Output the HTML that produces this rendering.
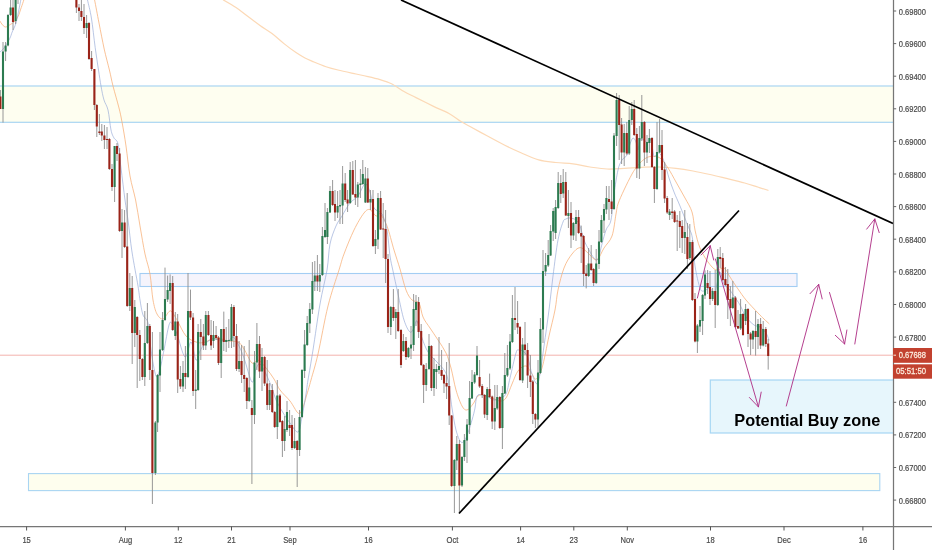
<!DOCTYPE html>
<html lang="en"><head><meta charset="utf-8"><title>AUDUSD chart</title>
<style>html,body{margin:0;padding:0;background:#fff;}body{width:932px;height:550px;overflow:hidden;font-family:"Liberation Sans","DejaVu Sans",sans-serif;}svg{display:block;}text{font-family:"Liberation Sans","DejaVu Sans",sans-serif;}</style>
</head><body>
<svg width="932" height="550" viewBox="0 0 932 550">
<rect x="0" y="0" width="932" height="550" fill="#ffffff"/>
<defs><clipPath id="plot"><rect x="0" y="0" width="893" height="526"/></clipPath></defs>
<g clip-path="url(#plot)">
<g id="zones">
<rect x="-2" y="86" width="900" height="36.3" fill="#fefef0" stroke="#a9d5f2" stroke-width="1.2"/>
<rect x="140" y="273.5" width="657" height="13" fill="#f5f4fc" stroke="#a3cdf3" stroke-width="1.1"/>
<rect x="28.5" y="473.6" width="851.3" height="17" fill="#fefeee" stroke="#a9d5f2" stroke-width="1.1"/>
<rect x="710.3" y="380" width="190" height="53" fill="#e7f6fc" stroke="#a6d6f3" stroke-width="1.2"/>
</g>
<line x1="0" y1="355.2" x2="893" y2="355.2" stroke="#f3b3ad" stroke-width="1"/>
<g id="ma" fill="none" stroke-linejoin="round" stroke-linecap="round">
<path d="M223.4 0.0C225.5 1.2 231.9 4.8 236.0 7.5C240.1 10.2 244.0 13.5 248.0 16.5C252.0 19.5 256.0 22.6 260.0 25.5C264.0 28.4 268.0 30.6 272.0 33.6C276.0 36.6 280.0 40.4 284.0 43.6C288.0 46.8 292.5 50.2 296.0 52.6C299.5 55.0 302.0 56.4 305.0 58.0C308.0 59.6 310.5 60.5 314.0 62.0C317.5 63.5 322.0 65.4 326.0 66.7C330.0 68.0 333.0 68.8 338.0 70.0C343.0 71.2 351.0 72.9 356.0 74.0C361.0 75.1 364.0 75.7 368.0 76.6C372.0 77.5 376.0 78.4 380.0 79.6C384.0 80.8 388.0 82.0 392.0 84.0C396.0 86.0 400.0 89.3 404.0 91.6C408.0 93.9 411.0 95.1 416.0 97.6C421.0 100.1 428.5 103.9 434.0 106.6C439.5 109.2 444.5 111.0 449.0 113.5C453.5 116.0 457.5 119.4 461.0 121.6C464.5 123.8 465.7 124.1 470.0 126.5C474.3 128.9 481.3 132.7 487.0 135.8C492.7 138.9 498.6 142.1 504.3 145.0C510.1 147.9 515.8 150.5 521.5 153.0C527.2 155.5 533.0 158.2 538.7 159.8C544.4 161.4 550.1 161.8 555.8 162.5C561.5 163.2 567.3 163.2 573.0 163.9C578.7 164.7 584.3 166.2 590.0 167.0C595.7 167.8 601.2 168.8 607.0 169.0C612.8 169.2 618.7 168.7 624.5 168.4C630.3 168.1 636.0 167.5 641.7 167.3C647.5 167.1 653.3 166.8 659.0 167.0C664.7 167.2 670.3 167.7 676.0 168.4C681.7 169.1 687.3 170.0 693.0 171.0C698.7 172.0 704.2 173.2 710.0 174.5C715.8 175.8 721.7 177.3 727.5 178.7C733.3 180.1 739.6 181.6 744.7 183.0C749.9 184.4 754.5 186.1 758.4 187.3C762.3 188.5 766.4 189.8 768.0 190.3" stroke="#fcd9b6" stroke-width="1.2"/>
<path d="M0.0 21.2C0.4 21.8 1.6 24.0 2.6 25.0C3.6 26.0 4.5 27.1 5.8 27.0C7.1 26.9 8.9 25.3 10.3 24.5C11.7 23.7 12.7 23.3 14.0 22.0C15.3 20.7 16.8 19.1 18.0 16.7C19.2 14.3 20.2 10.5 21.2 7.7C22.2 4.9 23.2 1.9 23.8 0.0C24.4 -1.9 24.8 -3.3 25.0 -4.0" stroke="#f8b27c" stroke-width="0.8"/>
<path d="M93.5 -4.0C93.7 -3.3 93.7 -4.5 94.6 0.0C95.5 4.5 97.4 14.8 99.0 23.0C100.6 31.2 102.5 41.2 104.2 49.0C105.9 56.8 107.9 63.8 109.4 70.0C110.9 76.2 111.4 79.7 113.0 86.0C114.6 92.3 117.5 102.0 119.0 108.0C120.5 114.0 120.8 115.7 122.0 122.0C123.2 128.3 124.7 137.0 126.0 146.0C127.3 155.0 128.4 167.0 130.0 176.0C131.6 185.0 133.9 191.7 135.6 200.0C137.3 208.3 138.4 217.0 140.0 226.0C141.6 235.0 143.3 246.0 145.0 254.0C146.7 262.0 148.7 266.3 150.0 274.0C151.3 281.7 151.8 293.3 153.0 300.0C154.2 306.7 155.3 310.8 157.0 314.0C158.7 317.2 161.0 319.4 163.0 319.0C165.0 318.6 167.5 312.8 169.0 311.6C170.5 310.4 170.7 310.6 172.0 312.0C173.3 313.4 174.7 316.0 177.0 320.0C179.3 324.0 182.8 332.3 186.0 336.0C189.2 339.7 193.0 340.9 196.0 342.0C199.0 343.1 200.7 343.1 204.0 342.4C207.3 341.7 212.0 338.2 216.0 338.0C220.0 337.8 224.3 340.3 228.0 341.0C231.7 341.7 235.3 340.7 238.0 342.0C240.7 343.3 241.7 345.5 244.0 349.0C246.3 352.5 249.7 361.2 252.0 363.0C254.3 364.8 255.7 359.2 258.0 360.0C260.3 360.8 263.3 364.8 266.0 368.0C268.7 371.2 271.7 375.3 274.0 379.0C276.3 382.7 277.3 386.3 280.0 390.0C282.7 393.7 287.0 397.2 290.0 401.0C293.0 404.8 296.0 411.5 298.0 413.0C300.0 414.5 300.5 413.2 302.0 410.0C303.5 406.8 305.5 399.0 307.0 394.0C308.5 389.0 309.2 386.7 311.0 380.0C312.8 373.3 315.2 366.3 318.0 354.0C320.8 341.7 324.5 320.0 328.0 306.0C331.5 292.0 336.3 278.7 339.0 270.0C341.7 261.3 341.5 260.7 344.0 254.0C346.5 247.3 350.7 236.8 354.0 230.0C357.3 223.2 361.3 216.4 364.0 213.0C366.7 209.6 368.0 209.1 370.0 209.6C372.0 210.1 374.3 215.3 376.0 216.0C377.7 216.7 378.2 212.3 380.0 214.0C381.8 215.7 384.7 220.0 387.0 226.0C389.3 232.0 391.8 242.8 394.0 250.0C396.2 257.2 398.0 262.3 400.0 269.0C402.0 275.7 404.0 284.8 406.0 290.0C408.0 295.2 409.8 297.8 412.0 300.0C414.2 302.2 417.2 300.2 419.0 303.0C420.8 305.8 421.2 312.8 423.0 317.0C424.8 321.2 427.5 324.2 430.0 328.0C432.5 331.8 435.3 335.8 438.0 340.0C440.7 344.2 443.8 348.3 446.0 353.0C448.2 357.7 449.3 361.8 451.0 368.0C452.7 374.2 454.2 383.7 456.0 390.0C457.8 396.3 460.2 402.7 462.0 406.0C463.8 409.3 465.2 410.3 467.0 410.0C468.8 409.7 471.2 406.3 473.0 404.0C474.8 401.7 476.2 397.5 478.0 396.0C479.8 394.5 481.7 394.7 484.0 395.0C486.3 395.3 489.3 397.0 492.0 398.0C494.7 399.0 497.7 401.0 500.0 401.0C502.3 401.0 504.0 400.8 506.0 398.0C508.0 395.2 510.0 388.5 512.0 384.0C514.0 379.5 515.7 374.0 518.0 371.0C520.3 368.0 523.7 365.5 526.0 366.0C528.3 366.5 530.3 371.8 532.0 374.0C533.7 376.2 534.3 380.0 536.0 379.0C537.7 378.0 539.8 375.2 542.0 368.0C544.2 360.8 546.8 345.7 549.0 336.0C551.2 326.3 553.5 317.7 555.0 310.0C556.5 302.3 556.5 297.0 558.0 290.0C559.5 283.0 561.7 274.0 564.0 268.0C566.3 262.0 569.3 257.4 572.0 254.0C574.7 250.6 577.3 247.8 580.0 247.6C582.7 247.4 585.7 251.1 588.0 253.0C590.3 254.9 592.3 258.0 594.0 259.0C595.7 260.0 596.3 260.8 598.0 259.0C599.7 257.2 601.7 251.8 604.0 248.0C606.3 244.2 610.0 241.7 612.0 236.0C614.0 230.3 615.0 219.3 616.0 214.0C617.0 208.7 616.7 208.0 618.0 204.0C619.3 200.0 621.7 195.0 624.0 190.0C626.3 185.0 630.0 177.7 632.0 174.0C634.0 170.3 634.7 169.8 636.0 168.0C637.3 166.2 638.3 164.7 640.0 163.0C641.7 161.3 644.0 159.1 646.0 158.0C648.0 156.9 649.7 156.4 652.0 156.4C654.3 156.4 657.3 156.1 660.0 158.0C662.7 159.9 665.3 164.0 668.0 168.0C670.7 172.0 673.2 177.0 676.0 182.0C678.8 187.0 682.3 193.0 685.0 198.0C687.7 203.0 690.3 206.7 692.0 212.0C693.7 217.3 693.7 224.0 695.0 230.0C696.3 236.0 697.8 242.7 700.0 248.0C702.2 253.3 705.3 258.3 708.0 262.0C710.7 265.7 713.3 269.0 716.0 270.0C718.7 271.0 721.7 266.8 724.0 268.0C726.3 269.2 727.7 273.5 730.0 277.0C732.3 280.5 735.3 285.2 738.0 289.0C740.7 292.8 742.7 296.0 746.0 300.0C749.3 304.0 755.0 309.8 758.0 313.0C761.0 316.2 762.2 317.2 764.0 319.0C765.8 320.8 768.2 322.8 769.0 323.6" stroke="#f8b27c" stroke-width="0.8"/>
<path d="M0.0 52.0C0.7 51.3 2.4 50.2 4.0 48.0C5.6 45.8 8.3 41.3 9.7 38.6C11.1 35.9 11.1 34.6 12.2 32.0C13.2 29.4 14.8 27.1 16.0 23.0C17.2 18.9 18.5 11.5 19.3 7.7C20.1 3.9 20.4 1.9 20.8 0.0C21.2 -1.9 21.4 -3.3 21.5 -4.0" stroke="#93a7d6" stroke-width="0.65"/>
<path d="M86.8 -4.0C86.9 -3.3 86.7 -3.7 87.5 0.0C88.3 3.7 90.1 10.1 91.4 18.0C92.7 25.9 94.0 38.9 95.2 47.6C96.4 56.3 97.5 63.6 98.5 70.0C99.5 76.4 100.1 81.0 101.0 86.0C101.9 91.0 102.8 96.0 104.0 100.0C105.2 104.0 106.8 105.0 108.0 110.0C109.2 115.0 110.0 125.3 111.0 130.0C112.0 134.7 112.8 135.7 114.0 138.0C115.2 140.3 116.8 139.0 118.0 144.0C119.2 149.0 119.8 158.7 121.0 168.0C122.2 177.3 123.8 191.3 125.0 200.0C126.2 208.7 126.8 211.3 128.0 220.0C129.2 228.7 130.3 241.0 132.0 252.0C133.7 263.0 136.7 278.0 138.0 286.0C139.3 294.0 139.2 295.2 140.0 300.0C140.8 304.8 141.7 311.2 143.0 315.0C144.3 318.8 146.7 317.2 148.0 323.0C149.3 328.8 149.7 341.2 151.0 350.0C152.3 358.8 154.5 372.8 156.0 376.0C157.5 379.2 158.7 373.3 160.0 369.0C161.3 364.7 162.5 357.3 164.0 350.0C165.5 342.7 167.7 329.4 169.0 325.0C170.3 320.6 170.7 322.1 172.0 323.6C173.3 325.1 174.8 328.4 177.0 334.0C179.2 339.6 182.7 355.7 185.0 357.0C187.3 358.3 189.2 341.5 191.0 342.0C192.8 342.5 194.5 358.5 196.0 360.0C197.5 361.5 198.7 353.5 200.0 351.0C201.3 348.5 202.0 347.0 204.0 345.0C206.0 343.0 209.3 339.8 212.0 339.0C214.7 338.2 217.3 339.7 220.0 340.0C222.7 340.3 225.8 341.5 228.0 341.0C230.2 340.5 231.3 336.5 233.0 337.0C234.7 337.5 236.2 340.5 238.0 344.0C239.8 347.5 241.7 351.7 244.0 358.0C246.3 364.3 250.0 380.2 252.0 382.0C254.0 383.8 254.7 372.0 256.0 369.0C257.3 366.0 258.3 363.2 260.0 364.0C261.7 364.8 264.0 370.0 266.0 374.0C268.0 378.0 270.3 383.7 272.0 388.0C273.7 392.3 274.3 396.2 276.0 400.0C277.7 403.8 279.7 407.2 282.0 411.0C284.3 414.8 287.3 419.5 290.0 423.0C292.7 426.5 296.0 433.0 298.0 432.0C300.0 431.0 300.7 423.3 302.0 417.0C303.3 410.7 305.0 400.2 306.0 394.0C307.0 387.8 306.8 387.3 308.0 380.0C309.2 372.7 311.0 362.7 313.0 350.0C315.0 337.3 317.7 317.3 320.0 304.0C322.3 290.7 325.3 280.0 327.0 270.0C328.7 260.0 328.5 251.3 330.0 244.0C331.5 236.7 334.0 230.7 336.0 226.0C338.0 221.3 339.7 219.8 342.0 216.0C344.3 212.2 347.3 206.3 350.0 203.0C352.7 199.7 355.5 199.2 358.0 196.0C360.5 192.8 363.0 184.7 365.0 184.0C367.0 183.3 368.5 188.0 370.0 192.0C371.5 196.0 372.0 204.3 374.0 208.0C376.0 211.7 379.8 210.3 382.0 214.0C384.2 217.7 385.7 223.0 387.0 230.0C388.3 237.0 389.0 249.2 390.0 256.0C391.0 262.8 391.7 264.7 393.0 271.0C394.3 277.3 396.2 285.8 398.0 294.0C399.8 302.2 402.0 313.7 404.0 320.0C406.0 326.3 408.3 330.7 410.0 332.0C411.7 333.3 412.8 329.8 414.0 328.0C415.2 326.2 415.7 319.3 417.0 321.0C418.3 322.7 420.2 332.8 422.0 338.0C423.8 343.2 425.7 348.2 428.0 352.0C430.3 355.8 433.3 358.0 436.0 361.0C438.7 364.0 442.0 366.8 444.0 370.0C446.0 373.2 446.7 373.7 448.0 380.0C449.3 386.3 450.7 399.7 452.0 408.0C453.3 416.3 454.5 424.3 456.0 430.0C457.5 435.7 459.3 440.7 461.0 442.0C462.7 443.3 464.2 441.7 466.0 438.0C467.8 434.3 470.5 425.0 472.0 420.0C473.5 415.0 474.2 412.0 475.0 408.0C475.8 404.0 475.8 398.2 477.0 396.0C478.2 393.8 480.2 394.8 482.0 395.0C483.8 395.2 486.0 396.2 488.0 397.0C490.0 397.8 492.0 399.8 494.0 400.0C496.0 400.2 498.0 399.0 500.0 398.0C502.0 397.0 504.3 397.3 506.0 394.0C507.7 390.7 508.3 384.8 510.0 378.0C511.7 371.2 514.5 357.7 516.0 353.0C517.5 348.3 517.7 350.2 519.0 350.0C520.3 349.8 522.5 350.7 524.0 352.0C525.5 353.3 526.7 354.3 528.0 358.0C529.3 361.7 530.5 369.7 532.0 374.0C533.5 378.3 535.7 384.0 537.0 384.0C538.3 384.0 538.8 380.3 540.0 374.0C541.2 367.7 542.5 356.7 544.0 346.0C545.5 335.3 547.5 321.7 549.0 310.0C550.5 298.3 551.5 287.7 553.0 276.0C554.5 264.3 556.3 249.0 558.0 240.0C559.7 231.0 561.7 225.5 563.0 222.0C564.3 218.5 564.8 219.7 566.0 219.0C567.2 218.3 568.3 217.8 570.0 218.0C571.7 218.2 574.3 218.7 576.0 220.0C577.7 221.3 578.7 222.7 580.0 226.0C581.3 229.3 582.5 236.0 584.0 240.0C585.5 244.0 587.3 247.0 589.0 250.0C590.7 253.0 592.5 256.5 594.0 258.0C595.5 259.5 596.7 261.3 598.0 259.0C599.3 256.7 600.7 248.8 602.0 244.0C603.3 239.2 604.5 234.0 606.0 230.0C607.5 226.0 609.7 226.0 611.0 220.0C612.3 214.0 612.8 202.3 614.0 194.0C615.2 185.7 616.7 175.7 618.0 170.0C619.3 164.3 620.5 162.5 622.0 160.0C623.5 157.5 625.7 157.7 627.0 155.0C628.3 152.3 629.0 146.8 630.0 144.0C631.0 141.2 632.0 138.3 633.0 138.0C634.0 137.7 635.2 140.0 636.0 142.0C636.8 144.0 637.3 150.3 638.0 150.0C638.7 149.7 639.0 141.7 640.0 140.0C641.0 138.3 642.7 139.5 644.0 140.0C645.3 140.5 646.8 143.0 648.0 143.0C649.2 143.0 650.0 137.8 651.0 140.0C652.0 142.2 652.8 153.8 654.0 156.0C655.2 158.2 656.8 153.2 658.0 153.0C659.2 152.8 659.8 153.2 661.0 155.0C662.2 156.8 663.7 160.2 665.0 164.0C666.3 167.8 667.5 173.3 669.0 178.0C670.5 182.7 672.2 187.3 674.0 192.0C675.8 196.7 677.7 200.3 680.0 206.0C682.3 211.7 685.9 220.7 688.0 226.0C690.1 231.3 691.2 231.3 692.4 238.0C693.6 244.7 693.7 257.7 695.0 266.0C696.3 274.3 698.5 283.8 700.0 288.0C701.5 292.2 702.3 291.0 704.0 291.0C705.7 291.0 708.3 287.5 710.0 288.0C711.7 288.5 712.8 294.7 714.0 294.0C715.2 293.3 716.0 287.7 717.0 284.0C718.0 280.3 718.8 272.0 720.0 272.0C721.2 272.0 722.5 281.2 724.0 284.0C725.5 286.8 727.3 287.0 729.0 289.0C730.7 291.0 732.2 293.3 734.0 296.0C735.8 298.7 738.0 301.5 740.0 305.0C742.0 308.5 743.7 313.7 746.0 317.0C748.3 320.3 751.7 323.3 754.0 325.0C756.3 326.7 758.0 325.7 760.0 327.0C762.0 328.3 764.5 330.8 766.0 333.0C767.5 335.2 768.5 338.8 769.0 340.0" stroke="#93a7d6" stroke-width="0.65"/>
</g>
<g id="candles">
<path d="M0.4 90.0V109.0M3.0 42.0V122.6M5.6 42.0V61.0M8.0 14.0V46.4M10.6 -2.0V16.0M13.0 -2.0V30.0M15.6 -6.0V24.0M18.0 -16.0V4.0M20.6 -18.0V-4.0M76.4 -10.0V13.0M79.0 4.0V21.0M81.4 0.0V21.0M84.0 4.0V34.0M86.6 15.0V38.0M89.0 22.0V60.0M91.6 51.0V71.0M94.4 69.0V110.0M96.8 104.0V137.0M99.4 114.0V135.0M101.8 124.0V141.0M104.4 125.0V149.0M107.0 127.0V149.0M109.4 138.0V170.0M112.0 164.0V191.0M114.6 146.0V202.0M117.0 143.0V161.0M119.6 148.0V232.0M122.0 209.0V258.0M124.6 210.0V248.0M127.2 193.0V307.0M129.8 273.0V311.0M132.2 276.0V364.0M134.8 300.0V347.0M137.2 316.0V388.0M139.8 330.0V381.0M142.4 358.0V380.0M144.8 311.0V386.0M147.4 303.0V344.0M149.8 324.0V380.0M152.4 332.0V504.0M155.4 421.0V475.0M157.6 374.0V432.0M160.0 332.0V392.0M162.6 312.0V351.0M165.0 267.6V321.0M167.6 275.6V302.0M170.1 274.4V304.0M172.7 276.0V331.0M175.3 312.0V340.0M177.7 314.0V393.0M180.4 366.0V389.0M183.0 361.0V392.0M185.4 346.0V389.0M188.0 273.0V378.0M190.5 289.6V320.0M193.1 313.0V396.0M195.7 370.0V409.0M198.1 324.0V391.0M200.8 319.0V360.0M203.4 324.0V350.0M205.8 311.0V350.0M208.4 311.0V336.0M211.1 320.0V350.0M213.5 321.0V348.0M216.1 326.0V340.0M218.5 336.0V365.0M221.2 329.0V378.0M223.8 311.6V351.0M226.2 327.0V352.0M228.8 319.0V348.0M231.5 304.0V348.0M233.9 305.0V347.0M236.5 324.0V371.0M239.1 341.0V372.0M241.6 345.0V383.0M244.2 346.0V392.0M246.8 377.0V409.0M249.2 340.0V402.0M251.9 400.0V484.0M254.5 351.0V424.0M256.9 323.0V370.0M259.5 336.0V378.0M262.0 348.0V391.0M264.6 356.0V386.0M267.2 360.0V410.0M269.6 383.0V410.0M272.3 384.0V413.0M274.7 411.0V428.0M277.3 380.0V439.0M279.9 394.0V423.0M282.4 420.0V457.0M284.6 416.0V451.0M287.0 401.0V432.0M289.6 410.0V436.0M292.0 415.0V450.0M294.6 418.0V449.0M297.2 440.0V487.0M299.6 410.0V456.0M302.0 369.0V418.0M304.6 330.0V378.0M307.2 316.0V346.0M309.8 303.0V333.0M312.4 262.0V314.0M314.8 261.0V291.0M317.4 255.0V291.0M319.8 264.0V292.0M322.4 227.0V276.0M325.0 203.0V238.0M327.4 208.0V244.0M330.0 186.0V213.0M332.6 180.0V206.0M335.0 190.0V221.0M337.6 191.0V218.0M340.0 190.0V224.0M342.6 166.0V224.0M345.2 173.0V202.0M347.6 190.0V212.0M350.2 162.0V204.0M352.8 161.0V195.0M355.4 160.0V205.0M357.8 182.0V207.0M360.4 169.0V198.0M362.8 160.0V185.0M365.4 167.0V203.0M367.8 168.0V203.0M370.4 190.0V210.0M373.0 190.0V247.0M375.4 230.0V254.0M378.0 193.0V249.0M380.6 191.0V230.0M383.2 203.0V258.0M385.6 210.0V283.0M388.0 254.0V333.0M390.8 306.0V335.0M393.4 289.0V321.0M395.8 309.0V339.0M398.2 289.0V332.0M401.0 329.0V368.0M403.4 334.0V352.0M406.0 337.0V360.0M408.4 347.0V358.0M411.0 326.0V359.0M413.6 294.0V351.0M416.0 295.0V326.0M418.6 297.0V338.0M421.2 324.0V366.0M423.6 364.0V403.0M426.2 363.0V391.0M429.0 334.0V370.0M431.4 345.0V391.0M434.0 358.0V396.0M436.4 364.0V389.0M439.0 337.0V374.0M441.6 350.0V380.0M444.0 374.0V393.0M446.6 362.0V399.0M449.2 343.0V425.0M451.6 415.0V487.0M454.4 459.0V513.0M456.8 436.0V470.0M459.4 440.0V513.0M462.0 456.0V487.0M464.4 434.0V461.0M467.0 419.0V463.0M469.6 381.0V434.0M472.0 370.0V399.0M474.6 372.0V384.0M477.0 346.0V376.0M479.6 360.0V388.0M482.2 384.0V398.0M484.6 394.0V418.0M487.2 387.0V420.0M489.6 373.6V398.0M492.2 395.6V429.0M494.8 385.0V430.0M497.2 385.0V410.0M499.8 396.0V429.0M502.4 386.0V449.0M504.8 353.0V394.0M507.4 345.0V377.0M510.0 334.0V370.0M512.4 295.0V343.0M515.0 287.0V330.0M517.6 301.0V334.0M520.0 326.0V381.0M522.6 338.0V383.0M525.0 322.0V355.0M527.6 343.0V388.0M530.4 355.0V397.0M532.8 380.0V424.0M535.4 413.0V428.0M538.0 360.0V427.0M540.4 318.0V374.0M543.0 250.0V343.0M545.6 253.0V276.0M548.2 240.0V267.0M550.6 225.0V256.0M553.2 208.0V241.0M555.6 200.0V239.0M558.2 172.0V209.0M560.8 175.0V203.0M563.2 169.0V198.0M565.8 172.0V216.0M568.4 190.0V228.0M571.0 202.0V248.0M573.4 222.0V240.0M576.0 210.0V241.0M578.6 210.0V234.0M581.2 225.6V263.0M583.6 235.0V286.0M586.2 265.0V288.4M588.6 248.0V277.0M591.2 245.0V271.0M593.6 268.0V286.0M596.2 249.0V284.0M599.0 230.0V269.0M601.4 215.0V243.0M604.0 204.0V233.0M606.4 186.0V214.0M609.0 186.0V220.0M611.6 180.0V214.0M614.0 133.0V210.0M616.6 93.0V146.0M619.2 95.0V160.0M621.6 118.0V164.0M624.2 124.0V166.0M626.8 122.0V155.0M629.2 106.0V155.0M631.8 102.0V125.0M634.2 100.0V136.0M636.8 128.0V178.0M639.4 126.0V179.0M641.8 95.0V141.0M644.4 121.0V166.0M647.0 135.0V163.0M649.4 129.0V153.0M652.0 137.0V168.0M654.4 166.0V203.0M657.0 122.0V190.0M659.6 119.0V153.0M662.0 130.0V180.0M664.6 162.0V203.0M667.2 196.0V214.0M669.6 209.0V220.0M672.2 198.0V219.0M674.6 210.0V223.0M677.2 215.0V251.0M679.8 211.0V248.0M682.2 220.0V253.0M684.8 210.0V254.0M687.4 223.0V269.0M689.8 224.0V260.0M692.4 240.0V301.0M695.0 293.0V342.4M697.4 324.0V353.0M700.0 306.0V332.0M702.6 294.0V335.0M705.0 270.4V299.0M707.6 270.0V294.0M710.0 271.0V305.0M712.6 288.0V301.0M715.2 270.0V328.0M717.8 249.0V306.0M720.2 247.0V268.0M722.8 253.0V281.0M725.4 267.0V286.0M727.8 269.0V319.0M730.4 286.0V326.0M732.8 281.0V309.0M735.4 296.0V328.0M738.0 310.0V329.0M740.6 299.0V330.0M743.0 313.0V336.0M745.6 304.0V325.0M748.0 308.0V347.0M750.6 332.0V355.0M753.0 330.0V349.0M755.6 311.0V355.6M758.0 319.0V349.0M760.6 318.0V349.0M763.2 321.0V346.4M765.8 327.0V347.0M768.2 339.0V369.6" stroke="#8c8c8c" stroke-width="0.9" fill="none"/>
<path d="M1.95 51.6h2.1v57.4h-2.1zM4.55 45.6h2.1v6.0h-2.1zM6.95 15.0h2.1v30.6h-2.1zM9.55 7.6h2.1v7.4h-2.1zM14.55 -4.0h2.1v25.0h-2.1zM16.95 -12.0h2.1v8.0h-2.1zM85.55 23.0h2.1v5.0h-2.1zM113.55 146.0h2.1v41.0h-2.1zM120.95 222.4h2.1v8.6h-2.1zM128.75 288.0h2.1v18.0h-2.1zM133.75 307.0h2.1v26.0h-2.1zM143.75 343.0h2.1v34.0h-2.1zM146.35 326.0h2.1v17.0h-2.1zM154.35 422.4h2.1v50.6h-2.1zM156.55 375.0h2.1v47.4h-2.1zM158.95 349.6h2.1v26.0h-2.1zM161.55 320.0h2.1v30.0h-2.1zM163.95 299.0h2.1v21.0h-2.1zM166.58 290.0h2.1v9.4h-2.1zM169.00 283.0h2.1v8.0h-2.1zM174.25 321.6h2.1v14.4h-2.1zM181.93 373.0h2.1v13.4h-2.1zM186.98 311.0h2.1v66.0h-2.1zM194.65 389.6h2.1v1.4h-2.1zM197.08 332.0h2.1v58.0h-2.1zM204.75 315.0h2.1v30.6h-2.1zM212.43 335.0h2.1v6.0h-2.1zM220.11 329.0h2.1v34.0h-2.1zM225.16 340.0h2.1v2.0h-2.1zM227.78 340.0h2.1v1.0h-2.1zM230.41 307.0h2.1v34.0h-2.1zM238.08 361.0h2.1v8.0h-2.1zM248.18 387.6h2.1v13.4h-2.1zM253.44 362.4h2.1v52.6h-2.1zM255.86 344.0h2.1v18.4h-2.1zM260.91 357.0h2.1v14.6h-2.1zM268.59 390.0h2.1v15.0h-2.1zM276.26 395.6h2.1v31.4h-2.1zM283.55 429.0h2.1v12.0h-2.1zM285.95 412.0h2.1v18.0h-2.1zM293.55 441.0h2.1v7.0h-2.1zM298.55 417.0h2.1v33.0h-2.1zM300.95 370.0h2.1v47.0h-2.1zM303.55 344.4h2.1v26.6h-2.1zM306.15 323.0h2.1v22.0h-2.1zM308.75 309.0h2.1v14.6h-2.1zM311.35 281.0h2.1v28.6h-2.1zM313.75 275.6h2.1v6.0h-2.1zM318.75 275.0h2.1v6.6h-2.1zM321.35 236.0h2.1v39.0h-2.1zM323.95 230.0h2.1v7.0h-2.1zM326.35 212.0h2.1v25.0h-2.1zM328.95 191.0h2.1v21.4h-2.1zM336.55 206.0h2.1v6.4h-2.1zM338.95 205.0h2.1v1.4h-2.1zM341.55 183.6h2.1v22.0h-2.1zM349.15 170.0h2.1v33.0h-2.1zM356.75 184.4h2.1v13.2h-2.1zM359.35 183.6h2.1v1.4h-2.1zM361.75 174.0h2.1v10.0h-2.1zM364.35 178.4h2.1v24.0h-2.1zM369.35 199.0h2.1v3.4h-2.1zM374.35 239.0h2.1v7.0h-2.1zM376.95 198.0h2.1v41.6h-2.1zM389.75 307.0h2.1v20.0h-2.1zM394.75 312.0h2.1v6.0h-2.1zM402.35 341.0h2.1v10.0h-2.1zM407.35 348.0h2.1v9.0h-2.1zM409.95 344.4h2.1v4.0h-2.1zM412.55 309.0h2.1v36.0h-2.1zM414.95 302.0h2.1v8.0h-2.1zM425.15 369.0h2.1v16.0h-2.1zM427.95 346.0h2.1v23.0h-2.1zM432.95 369.0h2.1v19.0h-2.1zM435.35 369.0h2.1v3.0h-2.1zM437.95 366.0h2.1v4.0h-2.1zM453.35 460.0h2.1v26.0h-2.1zM455.75 444.0h2.1v16.4h-2.1zM460.95 457.0h2.1v28.6h-2.1zM463.35 440.0h2.1v17.0h-2.1zM465.95 424.4h2.1v16.0h-2.1zM468.55 398.0h2.1v27.0h-2.1zM470.95 382.0h2.1v16.4h-2.1zM473.55 374.4h2.1v8.0h-2.1zM475.95 355.6h2.1v19.4h-2.1zM486.15 389.0h2.1v26.0h-2.1zM493.75 408.0h2.1v13.6h-2.1zM496.15 397.0h2.1v11.4h-2.1zM501.35 393.0h2.1v35.0h-2.1zM503.75 375.0h2.1v18.6h-2.1zM506.35 368.0h2.1v7.6h-2.1zM508.95 341.6h2.1v26.8h-2.1zM511.35 318.0h2.1v24.0h-2.1zM521.55 344.4h2.1v36.0h-2.1zM536.95 372.4h2.1v47.2h-2.1zM539.35 329.0h2.1v44.0h-2.1zM541.95 271.0h2.1v58.6h-2.1zM544.55 265.0h2.1v6.6h-2.1zM547.15 255.0h2.1v10.6h-2.1zM549.55 231.0h2.1v24.6h-2.1zM552.15 211.0h2.1v20.6h-2.1zM554.55 207.0h2.1v26.0h-2.1zM557.15 183.0h2.1v25.0h-2.1zM562.15 182.0h2.1v11.6h-2.1zM567.35 213.0h2.1v3.0h-2.1zM572.35 223.0h2.1v12.6h-2.1zM574.95 217.0h2.1v7.0h-2.1zM587.55 263.6h2.1v12.4h-2.1zM595.15 263.6h2.1v19.4h-2.1zM597.95 241.6h2.1v22.4h-2.1zM600.35 220.0h2.1v22.0h-2.1zM602.95 209.0h2.1v11.4h-2.1zM605.35 198.0h2.1v11.6h-2.1zM612.95 135.6h2.1v73.4h-2.1zM615.55 100.0h2.1v36.0h-2.1zM623.15 133.0h2.1v19.4h-2.1zM628.15 120.0h2.1v33.6h-2.1zM630.75 109.0h2.1v11.0h-2.1zM638.35 138.0h2.1v30.4h-2.1zM640.75 122.0h2.1v16.4h-2.1zM645.95 142.0h2.1v10.4h-2.1zM648.35 138.0h2.1v5.0h-2.1zM655.95 152.0h2.1v37.0h-2.1zM658.55 145.0h2.1v7.4h-2.1zM668.55 211.6h2.1v3.4h-2.1zM683.75 232.0h2.1v6.0h-2.1zM688.75 242.0h2.1v16.0h-2.1zM696.35 325.6h2.1v16.0h-2.1zM698.95 320.0h2.1v6.4h-2.1zM701.55 295.0h2.1v26.0h-2.1zM703.95 274.4h2.1v21.2h-2.1zM711.55 291.0h2.1v8.0h-2.1zM716.75 257.0h2.1v48.0h-2.1zM731.75 297.6h2.1v10.4h-2.1zM739.55 314.0h2.1v14.4h-2.1zM744.55 309.0h2.1v12.0h-2.1zM751.95 331.0h2.1v8.6h-2.1zM756.95 324.0h2.1v13.0h-2.1zM762.15 329.0h2.1v16.6h-2.1z" fill="#2c7b50"/>
<path d="M-0.65 96.4h2.1v12.6h-2.1zM11.95 7.6h2.1v14.4h-2.1zM19.55 -12.0h2.1v4.0h-2.1zM75.35 -8.0h2.1v15.6h-2.1zM77.95 7.6h2.1v3.4h-2.1zM80.35 11.0h2.1v6.0h-2.1zM82.95 17.0h2.1v11.0h-2.1zM87.95 23.0h2.1v36.0h-2.1zM90.55 58.0h2.1v11.0h-2.1zM93.35 69.0h2.1v36.0h-2.1zM95.75 105.0h2.1v21.6h-2.1zM98.35 131.6h2.1v1.4h-2.1zM100.75 131.6h2.1v4.0h-2.1zM103.35 135.6h2.1v4.4h-2.1zM105.95 139.0h2.1v1.0h-2.1zM108.35 139.0h2.1v30.0h-2.1zM110.95 169.0h2.1v18.0h-2.1zM115.95 146.0h2.1v8.0h-2.1zM118.55 153.6h2.1v77.4h-2.1zM123.55 222.4h2.1v24.6h-2.1zM126.15 246.4h2.1v59.6h-2.1zM131.15 288.0h2.1v45.0h-2.1zM136.15 317.0h2.1v18.0h-2.1zM138.75 335.0h2.1v24.0h-2.1zM141.35 359.0h2.1v18.0h-2.1zM148.75 326.0h2.1v44.0h-2.1zM151.35 370.0h2.1v103.0h-2.1zM171.63 283.0h2.1v47.0h-2.1zM176.68 321.6h2.1v58.0h-2.1zM179.30 379.0h2.1v7.4h-2.1zM184.35 373.0h2.1v4.0h-2.1zM189.40 311.0h2.1v6.6h-2.1zM192.03 317.6h2.1v73.4h-2.1zM199.70 332.0h2.1v5.0h-2.1zM202.33 336.6h2.1v9.0h-2.1zM207.38 315.0h2.1v20.0h-2.1zM210.01 335.0h2.1v10.6h-2.1zM215.06 335.0h2.1v3.0h-2.1zM217.48 337.6h2.1v25.4h-2.1zM222.73 329.0h2.1v13.0h-2.1zM232.83 307.0h2.1v29.0h-2.1zM235.46 336.0h2.1v33.0h-2.1zM240.51 361.0h2.1v14.0h-2.1zM243.13 375.0h2.1v4.0h-2.1zM245.76 378.0h2.1v23.0h-2.1zM250.81 408.0h2.1v7.0h-2.1zM258.49 344.0h2.1v27.6h-2.1zM263.54 357.0h2.1v26.6h-2.1zM266.16 383.6h2.1v21.4h-2.1zM271.21 390.0h2.1v22.0h-2.1zM273.64 412.0h2.1v15.0h-2.1zM278.89 395.6h2.1v26.4h-2.1zM281.31 421.0h2.1v20.0h-2.1zM288.55 425.0h2.1v3.0h-2.1zM290.95 425.0h2.1v23.0h-2.1zM296.15 441.0h2.1v9.0h-2.1zM316.35 275.6h2.1v6.0h-2.1zM331.55 191.0h2.1v14.0h-2.1zM333.95 204.0h2.1v8.4h-2.1zM344.15 183.6h2.1v16.4h-2.1zM346.55 199.6h2.1v4.0h-2.1zM351.75 170.0h2.1v24.4h-2.1zM354.35 194.0h2.1v3.6h-2.1zM366.75 178.4h2.1v24.0h-2.1zM371.95 199.0h2.1v47.0h-2.1zM379.55 198.0h2.1v31.6h-2.1zM382.15 228.6h2.1v1.0h-2.1zM384.55 229.0h2.1v30.0h-2.1zM386.95 259.0h2.1v68.0h-2.1zM392.35 307.0h2.1v11.0h-2.1zM397.15 312.0h2.1v19.0h-2.1zM399.95 330.0h2.1v35.0h-2.1zM404.95 341.0h2.1v16.0h-2.1zM417.55 302.0h2.1v30.0h-2.1zM420.15 331.0h2.1v34.0h-2.1zM422.55 365.0h2.1v20.0h-2.1zM430.35 346.0h2.1v42.0h-2.1zM440.55 370.0h2.1v6.0h-2.1zM442.95 375.0h2.1v8.6h-2.1zM445.55 383.0h2.1v3.4h-2.1zM448.15 386.0h2.1v29.6h-2.1zM450.55 415.6h2.1v70.4h-2.1zM458.35 444.0h2.1v41.6h-2.1zM478.55 377.0h2.1v9.4h-2.1zM481.15 386.0h2.1v9.0h-2.1zM483.55 395.0h2.1v19.4h-2.1zM488.55 389.0h2.1v8.0h-2.1zM491.15 396.4h2.1v25.2h-2.1zM498.75 397.0h2.1v31.0h-2.1zM513.95 318.0h2.1v2.0h-2.1zM516.55 323.0h2.1v4.6h-2.1zM518.95 327.0h2.1v53.0h-2.1zM523.95 344.4h2.1v5.6h-2.1zM526.55 350.0h2.1v25.6h-2.1zM529.35 375.6h2.1v6.4h-2.1zM531.75 381.6h2.1v32.4h-2.1zM534.35 414.0h2.1v5.6h-2.1zM559.75 183.0h2.1v11.0h-2.1zM564.75 182.0h2.1v33.6h-2.1zM569.95 213.0h2.1v22.6h-2.1zM577.55 217.0h2.1v16.0h-2.1zM580.15 233.0h2.1v3.4h-2.1zM582.55 236.0h2.1v38.0h-2.1zM585.15 273.6h2.1v2.4h-2.1zM590.15 263.6h2.1v6.4h-2.1zM592.55 269.0h2.1v14.0h-2.1zM607.95 199.0h2.1v3.0h-2.1zM610.55 201.6h2.1v7.4h-2.1zM618.15 100.0h2.1v25.0h-2.1zM620.55 124.4h2.1v28.0h-2.1zM625.75 133.0h2.1v20.6h-2.1zM633.15 109.0h2.1v26.0h-2.1zM635.75 134.0h2.1v34.4h-2.1zM643.35 122.0h2.1v30.4h-2.1zM650.95 138.0h2.1v29.0h-2.1zM653.35 167.0h2.1v22.0h-2.1zM660.95 145.0h2.1v25.0h-2.1zM663.55 169.6h2.1v28.8h-2.1zM666.15 198.0h2.1v14.4h-2.1zM671.15 211.6h2.1v1.4h-2.1zM673.55 211.6h2.1v10.4h-2.1zM676.15 220.6h2.1v1.0h-2.1zM678.75 221.0h2.1v6.0h-2.1zM681.15 226.0h2.1v12.0h-2.1zM686.35 237.0h2.1v22.0h-2.1zM691.35 242.0h2.1v58.0h-2.1zM693.95 299.0h2.1v42.6h-2.1zM706.55 283.0h2.1v5.0h-2.1zM708.95 287.0h2.1v12.0h-2.1zM714.15 291.0h2.1v14.0h-2.1zM719.15 257.0h2.1v2.0h-2.1zM721.75 258.0h2.1v22.0h-2.1zM724.35 279.0h2.1v6.0h-2.1zM726.75 284.0h2.1v16.0h-2.1zM729.35 299.0h2.1v9.0h-2.1zM734.35 297.6h2.1v29.4h-2.1zM736.95 326.0h2.1v2.4h-2.1zM741.95 314.0h2.1v21.0h-2.1zM746.95 309.0h2.1v25.0h-2.1zM749.55 333.6h2.1v6.0h-2.1zM754.55 331.0h2.1v6.0h-2.1zM759.55 324.0h2.1v21.6h-2.1zM764.75 329.0h2.1v15.0h-2.1zM767.15 343.6h2.1v12.4h-2.1z" fill="#9a2318"/>
</g>
<g id="trend" stroke="#000" stroke-width="1.75" stroke-linecap="butt" fill="none">
<line x1="401" y1="0" x2="893" y2="223.5"/>
<line x1="459" y1="513.5" x2="739" y2="210.5"/>
</g>
<g id="arrows" stroke="#ad2a82" stroke-width="0.9" fill="none" stroke-linecap="round" stroke-linejoin="round">
<path d="M697.4 298 L710.2 245.7 M701 255 L710.2 245.7 L713.7 260"/>
<path d="M715.4 259 L758.4 406.9 M749.4 397.5 L758.4 406.9 L761.2 392.1"/>
<path d="M786.3 406 L818.7 284.4 M810 293.7 L818.7 284.4 L822.2 298.9"/>
<path d="M829.5 292.5 L844.6 344 M835.3 335.3 L844.6 344 L846.9 330"/>
<path d="M854.8 344 L874.8 218.9 M866.7 229.1 L874.8 218.9 L879.2 232.6"/>
</g>
<text x="734.3" y="425.8" font-size="17" font-weight="bold" fill="#000" textLength="146" lengthAdjust="spacingAndGlyphs">Potential Buy zone</text>
</g>
<g id="axes">
<line x1="893.5" y1="0" x2="893.5" y2="550" stroke="#767676" stroke-width="1.25"/>
<line x1="0" y1="526.5" x2="932" y2="526.5" stroke="#767676" stroke-width="1.25"/>
<line x1="893.5" y1="11.0" x2="896.2" y2="11.0" stroke="#666" stroke-width="1"/>
<text transform="translate(898.7,14.5) scale(0.84,1)" font-size="9" fill="#4a4a4a" stroke="#4a4a4a" stroke-width="0.2">0.69800</text>
<line x1="893.5" y1="43.6" x2="896.2" y2="43.6" stroke="#666" stroke-width="1"/>
<text transform="translate(898.7,47.1) scale(0.84,1)" font-size="9" fill="#4a4a4a" stroke="#4a4a4a" stroke-width="0.2">0.69600</text>
<line x1="893.5" y1="76.2" x2="896.2" y2="76.2" stroke="#666" stroke-width="1"/>
<text transform="translate(898.7,79.7) scale(0.84,1)" font-size="9" fill="#4a4a4a" stroke="#4a4a4a" stroke-width="0.2">0.69400</text>
<line x1="893.5" y1="108.8" x2="896.2" y2="108.8" stroke="#666" stroke-width="1"/>
<text transform="translate(898.7,112.3) scale(0.84,1)" font-size="9" fill="#4a4a4a" stroke="#4a4a4a" stroke-width="0.2">0.69200</text>
<line x1="893.5" y1="141.4" x2="896.2" y2="141.4" stroke="#666" stroke-width="1"/>
<text transform="translate(898.7,144.9) scale(0.84,1)" font-size="9" fill="#4a4a4a" stroke="#4a4a4a" stroke-width="0.2">0.69000</text>
<line x1="893.5" y1="174.0" x2="896.2" y2="174.0" stroke="#666" stroke-width="1"/>
<text transform="translate(898.7,177.5) scale(0.84,1)" font-size="9" fill="#4a4a4a" stroke="#4a4a4a" stroke-width="0.2">0.68800</text>
<line x1="893.5" y1="206.6" x2="896.2" y2="206.6" stroke="#666" stroke-width="1"/>
<text transform="translate(898.7,210.1) scale(0.84,1)" font-size="9" fill="#4a4a4a" stroke="#4a4a4a" stroke-width="0.2">0.68600</text>
<line x1="893.5" y1="239.2" x2="896.2" y2="239.2" stroke="#666" stroke-width="1"/>
<text transform="translate(898.7,242.7) scale(0.84,1)" font-size="9" fill="#4a4a4a" stroke="#4a4a4a" stroke-width="0.2">0.68400</text>
<line x1="893.5" y1="271.9" x2="896.2" y2="271.9" stroke="#666" stroke-width="1"/>
<text transform="translate(898.7,275.4) scale(0.84,1)" font-size="9" fill="#4a4a4a" stroke="#4a4a4a" stroke-width="0.2">0.68200</text>
<line x1="893.5" y1="304.5" x2="896.2" y2="304.5" stroke="#666" stroke-width="1"/>
<text transform="translate(898.7,308.0) scale(0.84,1)" font-size="9" fill="#4a4a4a" stroke="#4a4a4a" stroke-width="0.2">0.68000</text>
<line x1="893.5" y1="337.1" x2="896.2" y2="337.1" stroke="#666" stroke-width="1"/>
<text transform="translate(898.7,340.6) scale(0.84,1)" font-size="9" fill="#4a4a4a" stroke="#4a4a4a" stroke-width="0.2">0.67800</text>
<line x1="893.5" y1="402.3" x2="896.2" y2="402.3" stroke="#666" stroke-width="1"/>
<text transform="translate(898.7,405.8) scale(0.84,1)" font-size="9" fill="#4a4a4a" stroke="#4a4a4a" stroke-width="0.2">0.67400</text>
<line x1="893.5" y1="434.9" x2="896.2" y2="434.9" stroke="#666" stroke-width="1"/>
<text transform="translate(898.7,438.4) scale(0.84,1)" font-size="9" fill="#4a4a4a" stroke="#4a4a4a" stroke-width="0.2">0.67200</text>
<line x1="893.5" y1="467.5" x2="896.2" y2="467.5" stroke="#666" stroke-width="1"/>
<text transform="translate(898.7,471.0) scale(0.84,1)" font-size="9" fill="#4a4a4a" stroke="#4a4a4a" stroke-width="0.2">0.67000</text>
<line x1="893.5" y1="500.1" x2="896.2" y2="500.1" stroke="#666" stroke-width="1"/>
<text transform="translate(898.7,503.6) scale(0.84,1)" font-size="9" fill="#4a4a4a" stroke="#4a4a4a" stroke-width="0.2">0.66800</text>
<line x1="26.6" y1="526.5" x2="26.6" y2="530.5" stroke="#555" stroke-width="1"/>
<text transform="translate(26.6,543.3) scale(0.84,1)" font-size="9" fill="#4a4a4a" stroke="#4a4a4a" stroke-width="0.2" text-anchor="middle">15</text>
<line x1="125.4" y1="526.5" x2="125.4" y2="530.5" stroke="#555" stroke-width="1"/>
<text transform="translate(125.4,543.3) scale(0.84,1)" font-size="9" fill="#4a4a4a" stroke="#4a4a4a" stroke-width="0.2" text-anchor="middle">Aug</text>
<line x1="178.3" y1="526.5" x2="178.3" y2="530.5" stroke="#555" stroke-width="1"/>
<text transform="translate(178.3,543.3) scale(0.84,1)" font-size="9" fill="#4a4a4a" stroke="#4a4a4a" stroke-width="0.2" text-anchor="middle">12</text>
<line x1="231.5" y1="526.5" x2="231.5" y2="530.5" stroke="#555" stroke-width="1"/>
<text transform="translate(231.5,543.3) scale(0.84,1)" font-size="9" fill="#4a4a4a" stroke="#4a4a4a" stroke-width="0.2" text-anchor="middle">21</text>
<line x1="290" y1="526.5" x2="290" y2="530.5" stroke="#555" stroke-width="1"/>
<text transform="translate(290,543.3) scale(0.84,1)" font-size="9" fill="#4a4a4a" stroke="#4a4a4a" stroke-width="0.2" text-anchor="middle">Sep</text>
<line x1="368.5" y1="526.5" x2="368.5" y2="530.5" stroke="#555" stroke-width="1"/>
<text transform="translate(368.5,543.3) scale(0.84,1)" font-size="9" fill="#4a4a4a" stroke="#4a4a4a" stroke-width="0.2" text-anchor="middle">16</text>
<line x1="452.4" y1="526.5" x2="452.4" y2="530.5" stroke="#555" stroke-width="1"/>
<text transform="translate(452.4,543.3) scale(0.84,1)" font-size="9" fill="#4a4a4a" stroke="#4a4a4a" stroke-width="0.2" text-anchor="middle">Oct</text>
<line x1="520.6" y1="526.5" x2="520.6" y2="530.5" stroke="#555" stroke-width="1"/>
<text transform="translate(520.6,543.3) scale(0.84,1)" font-size="9" fill="#4a4a4a" stroke="#4a4a4a" stroke-width="0.2" text-anchor="middle">14</text>
<line x1="573.8" y1="526.5" x2="573.8" y2="530.5" stroke="#555" stroke-width="1"/>
<text transform="translate(573.8,543.3) scale(0.84,1)" font-size="9" fill="#4a4a4a" stroke="#4a4a4a" stroke-width="0.2" text-anchor="middle">23</text>
<line x1="627.3" y1="526.5" x2="627.3" y2="530.5" stroke="#555" stroke-width="1"/>
<text transform="translate(627.3,543.3) scale(0.84,1)" font-size="9" fill="#4a4a4a" stroke="#4a4a4a" stroke-width="0.2" text-anchor="middle">Nov</text>
<line x1="710.5" y1="526.5" x2="710.5" y2="530.5" stroke="#555" stroke-width="1"/>
<text transform="translate(710.5,543.3) scale(0.84,1)" font-size="9" fill="#4a4a4a" stroke="#4a4a4a" stroke-width="0.2" text-anchor="middle">18</text>
<line x1="784" y1="526.5" x2="784" y2="530.5" stroke="#555" stroke-width="1"/>
<text transform="translate(784,543.3) scale(0.84,1)" font-size="9" fill="#4a4a4a" stroke="#4a4a4a" stroke-width="0.2" text-anchor="middle">Dec</text>
<line x1="862.9" y1="526.5" x2="862.9" y2="530.5" stroke="#555" stroke-width="1"/>
<text transform="translate(862.9,543.3) scale(0.84,1)" font-size="9" fill="#4a4a4a" stroke="#4a4a4a" stroke-width="0.2" text-anchor="middle">16</text>
<rect x="893" y="348" width="39" height="14.8" fill="#c2412f"/>
<rect x="893" y="364.3" width="39" height="14.4" fill="#c2412f"/>
<line x1="893.5" y1="355.2" x2="896" y2="355.2" stroke="#fde9d9" stroke-width="1"/>
<text transform="translate(898.7,358.4) scale(0.84,1)" font-size="9" fill="#fdeee0" stroke="#fdeee0" stroke-width="0.25">0.67688</text>
<text transform="translate(896,374.0) scale(0.86,1)" font-size="9" fill="#fdeee0" stroke="#fdeee0" stroke-width="0.25">05:51:50</text>
</g>
</svg>
</body></html>
